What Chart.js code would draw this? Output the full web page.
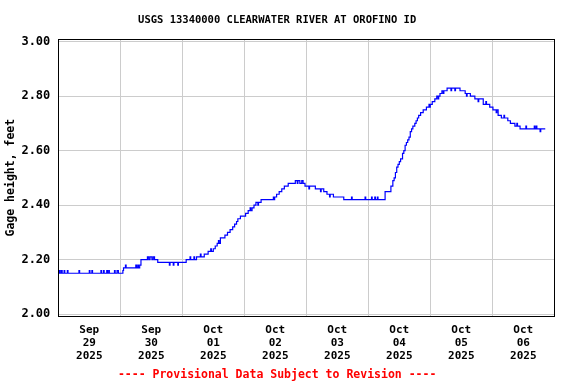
<!DOCTYPE html>
<html>
<head>
<meta charset="utf-8">
<script src="https://cdn.jsdelivr.net/npm/chart.js@4/dist/chart.umd.min.js"></script>
<style>
  html, body { margin: 0; padding: 0; background: #fff; }
  #wrap { width: 576px; height: 384px; }
</style>
</head>
<body>
<div id="wrap"><canvas id="c" width="576" height="384"></canvas></div>
<script>
// Hours since 2025-09-29 00:00 at which the gage height changed, and the new value (feet)
const hours = [0,0.5,0.75,1.25,1.5,2.25,2.5,3.5,3.75,8,8.25,12,12.25,13,13.25,16.5,16.75,17.5,17.75,18.75,19,19.5,19.75,21.75,22,22.75,23.25,
  25,25.25,26,26.25,30,30.25,30.75,31,31.5,32,34.5,35,35.5,36.25,36.75,37.25,38.5,43,43.25,44.5,44.75,46.25,46.5,
  49.5,51,51.25,52.5,52.75,53.5,55,55.25,56.5,58,59,59.25,60,60.75,61.5,62,62.25,62.75,64.5,65.5,66.5,67.5,68.25,69,69.5,70.5,
  72.5,73.5,74.25,74.5,75,75.75,76.5,77.25,77.5,78.5,83.25,83.5,83.75,84.5,85.5,86.5,87.5,89,91.75,92.5,92.75,93.5,94.25,94.75,
  95.5,97,97.25,99.5,101.5,101.75,102.75,104,105,105.25,106.5,110.5,113.5,113.75,118.75,119,121.25,121.5,122.5,122.75,123.5,123.75,
  126.5,128.75,129.5,130,130.5,131,131.5,132,132.5,133.25,133.75,134.25,134.75,135.25,135.75,136.25,136.75,137.25,138,138.5,139,139.5,
  140.25,141.25,142.5,143.5,143.75,144,144.75,145.75,146.5,147,147.25,147.75,148.5,149,149.25,150.5,152,152.25,153.5,153.75,155.5,
  157.5,158,158.25,159.5,161.25,162.5,162.75,164.5,165.5,165.75,167,168.25,169.5,169.75,170.25,171.5,172.5,172.75,174,175,176.75,
  177.5,177.75,178.75,181,181.25,184.25,184.5,185,185.25,186.5,186.75,188.5];
const stage = [2.15,2.16,2.15,2.16,2.15,2.16,2.15,2.16,2.15,2.16,2.15,2.16,2.15,2.16,2.15,2.16,2.15,2.16,2.15,2.16,2.15,2.16,2.15,2.16,2.15,2.16,2.15,
  2.16,2.17,2.18,2.17,2.18,2.17,2.18,2.17,2.18,2.20,2.21,2.20,2.21,2.20,2.21,2.20,2.19,2.18,2.19,2.18,2.19,2.18,2.19,
  2.20,2.21,2.20,2.21,2.20,2.21,2.22,2.21,2.22,2.23,2.24,2.23,2.24,2.25,2.26,2.27,2.26,2.28,2.29,2.30,2.31,2.32,2.33,2.34,2.35,2.36,
  2.37,2.38,2.39,2.38,2.39,2.40,2.41,2.40,2.41,2.42,2.43,2.42,2.43,2.44,2.45,2.46,2.47,2.48,2.49,2.48,2.49,2.48,2.49,2.48,
  2.47,2.46,2.47,2.46,2.45,2.46,2.45,2.44,2.43,2.44,2.43,2.42,2.43,2.42,2.43,2.42,2.43,2.42,2.43,2.42,2.43,2.42,
  2.45,2.47,2.49,2.50,2.52,2.54,2.55,2.56,2.57,2.59,2.60,2.62,2.63,2.64,2.65,2.67,2.68,2.69,2.70,2.71,2.72,2.73,
  2.74,2.75,2.76,2.77,2.76,2.77,2.78,2.79,2.80,2.79,2.80,2.81,2.82,2.81,2.82,2.83,2.82,2.83,2.82,2.83,2.82,
  2.81,2.80,2.81,2.80,2.79,2.78,2.79,2.77,2.78,2.77,2.76,2.75,2.74,2.75,2.73,2.72,2.73,2.72,2.71,2.70,2.69,
  2.70,2.69,2.68,2.69,2.68,2.69,2.68,2.69,2.68,2.67,2.68,2.68];

const dayLabels = [['Sep','29','2025'],['Sep','30','2025'],['Oct','01','2025'],['Oct','02','2025'],
                   ['Oct','03','2025'],['Oct','04','2025'],['Oct','05','2025'],['Oct','06','2025']];
const yTickValues = [2.00, 2.20, 2.40, 2.60, 2.80, 3.00];

const FONT = '"DejaVu Sans Mono", "Liberation Mono", monospace';

const points = hours.map((h, i) => ({x: h, y: stage[i]}));

const frame = {
  id: 'frame',
  afterDraw(chart) {
    const a = chart.chartArea, ctx = chart.ctx;
    ctx.save();
    ctx.strokeStyle = '#000';
    ctx.lineWidth = 1;
    ctx.strokeRect(Math.round(a.left) + 0.5, Math.round(a.top) + 0.5,
                   Math.round(a.right - a.left), Math.round(a.bottom - a.top));
    ctx.restore();
  }
};

new Chart(document.getElementById('c'), {
  type: 'line',
  data: {
    datasets: [{
      data: points,
      stepped: true,
      borderColor: '#0000ff',
      borderWidth: 1.2,
      pointRadius: 0,
      fill: false
    }]
  },
  options: {
    responsive: false,
    animation: false,
    events: [],
    layout: { padding: { left: 0, right: 21.7, top: 0, bottom: 0 } },
    plugins: {
      legend: { display: false },
      tooltip: { enabled: false },
      title: {
        display: true,
        text: 'USGS 13340000 CLEARWATER RIVER AT OROFINO ID',
        color: '#000',
        font: { family: FONT, size: 10.5, weight: 'bold', lineHeight: 1.2 },
        padding: { top: 13.7, bottom: 13 }
      },
      subtitle: {
        display: true,
        position: 'bottom',
        text: '---- Provisional Data Subject to Revision ----',
        color: '#ff0000',
        font: { family: FONT, size: 11.5, weight: 'bold', lineHeight: '14px' },
        padding: { top: 2, bottom: 2 }
      }
    },
    scales: {
      x: {
        type: 'linear',
        min: 0,
        max: 192,
        offset: false,
        afterBuildTicks: (s) => {
          const t = [];
          for (let v = 0; v <= 192; v += 12) t.push({ value: v });
          s.ticks = t;
        },
        afterFit: (s) => { s.height = 50; },
        grid: {
          drawTicks: false,
          color: (ctx) => (ctx.tick && ctx.tick.value % 24 === 0) ? '#cccccc' : 'rgba(0,0,0,0)',
          lineWidth: 1
        },
        border: { display: false },
        ticks: {
          autoSkip: false,
          maxRotation: 0,
          minRotation: 0,
          padding: 7.5,
          color: '#000',
          font: { family: FONT, size: 11, weight: 'bold', lineHeight: '13px' },
          callback: (v) => (v % 24 === 12) ? dayLabels[(v - 12) / 24] : ''
        }
      },
      y: {
        type: 'linear',
        min: 1.993,
        max: 3.009,
        afterBuildTicks: (s) => { s.ticks = yTickValues.map(v => ({ value: v })); },
        afterFit: (s) => { s.width = 58.3; },
        grid: { drawTicks: false, color: '#cccccc', lineWidth: 1 },
        border: { display: false },
        ticks: {
          padding: 8,
          color: '#000',
          font: { family: FONT, size: 12, weight: 'bold' },
          callback: (v) => v.toFixed(2)
        },
        title: {
          display: true,
          text: 'Gage height, feet',
          color: '#000',
          font: { family: FONT, size: 11.5, weight: 'bold', lineHeight: 1.2 },
          padding: { top: 4.6, bottom: 0 }
        }
      }
    }
  },
  plugins: [frame]
});
</script>
</body>
</html>
